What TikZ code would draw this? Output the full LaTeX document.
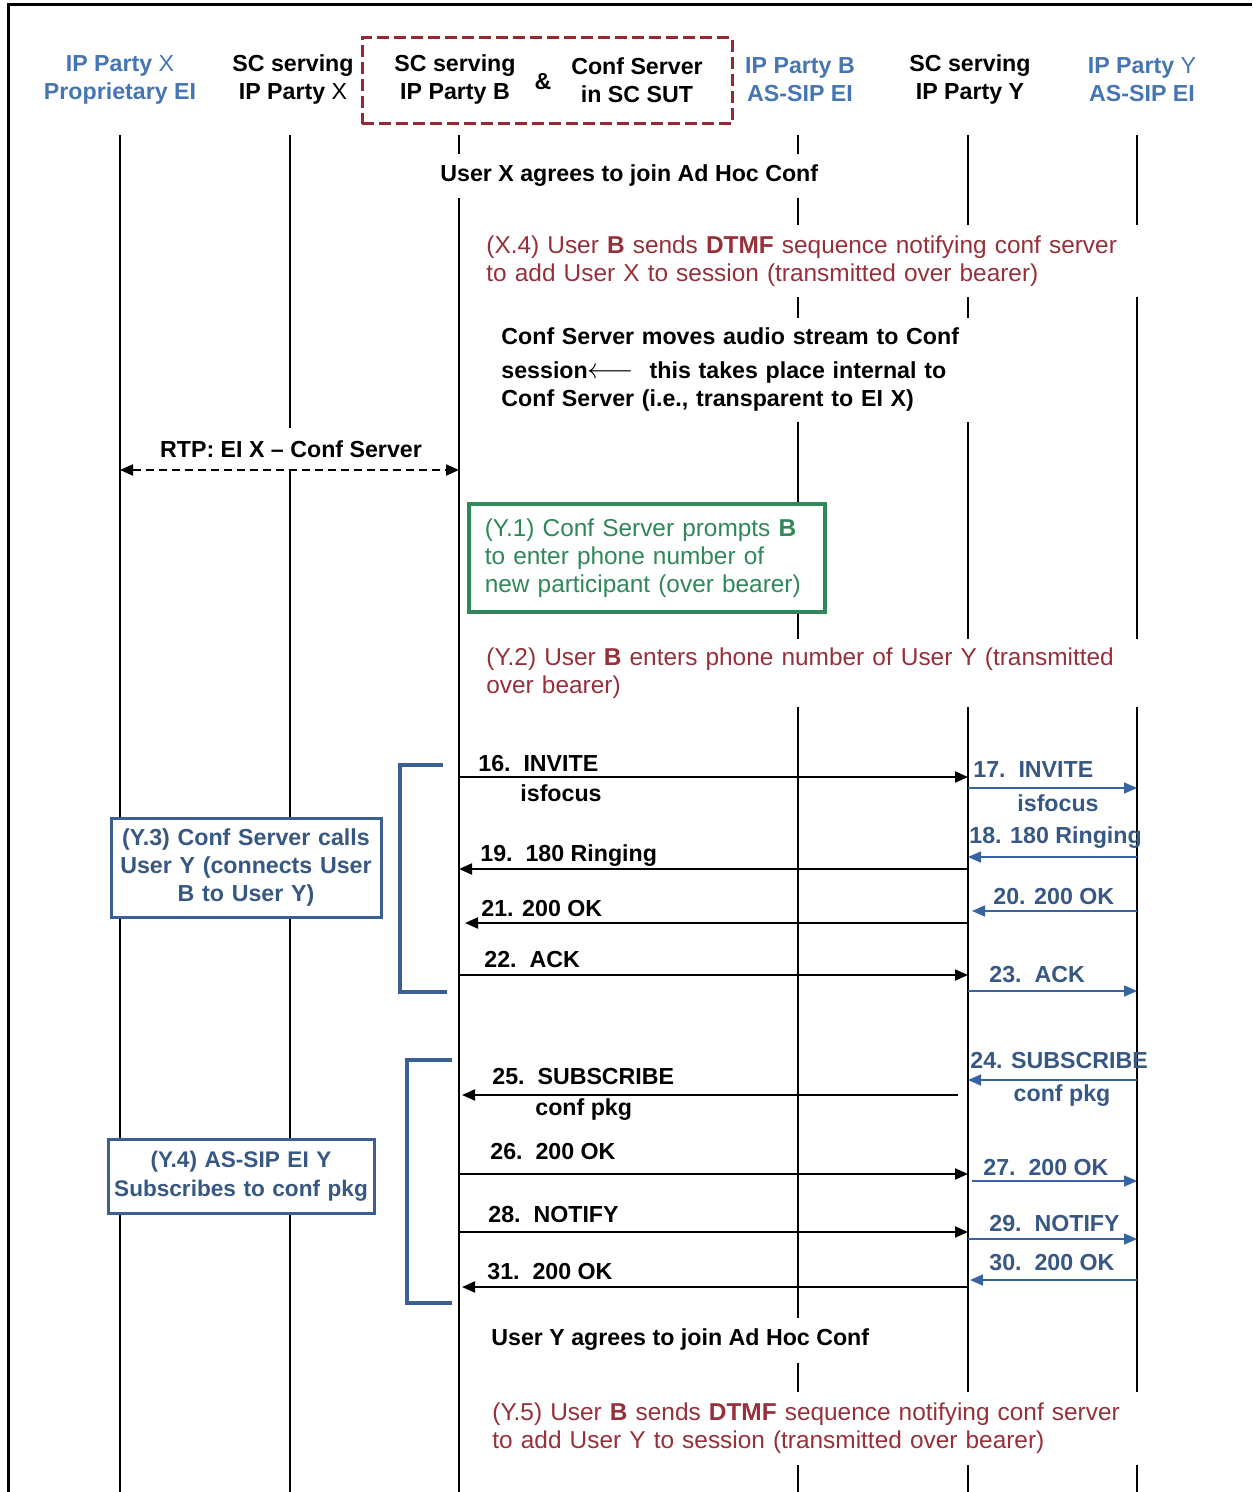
\documentclass[tikz,border=0pt]{standalone}
\usepackage{fontspec}
\setmainfont{Liberation Sans}
\usetikzlibrary{arrows.meta}
\definecolor{hblue}{RGB}{70,118,178}
\definecolor{mblue}{RGB}{55,88,132}
\definecolor{ablue}{RGB}{55,100,160}
\definecolor{bblue}{RGB}{58,96,145}
\definecolor{dred}{RGB}{150,48,58}
\definecolor{boxred}{RGB}{150,40,50}
\definecolor{dgreen}{RGB}{48,135,90}
\tikzset{mtip/.tip={Triangle[length=6.5pt,width=5.5pt]}}
\newcommand{\regf}{\fontsize{12.2}{14}\selectfont}
\newcommand{\bldf}{\fontsize{11.6}{14}\selectfont\bfseries}
\begin{document}
\begin{tikzpicture}[x=0.5pt,y=-0.5pt,
  life/.style={line width=1pt},
  msg/.style={line width=1pt,-mtip},
  bmsg/.style={line width=0.8pt,ablue,-mtip},
  lbl/.style={font=\bldf,inner sep=0pt,anchor=west},
  blbl/.style={lbl,text=mblue},
  hdr/.style={font=\bldf,align=center,inner sep=0pt},
  note/.style={fill=white,inner xsep=1pt,inner ysep=0pt,align=left,anchor=west,font=\regf},
  bnote/.style={note,font=\bldf},
  bracket/.style={bblue,line width=2pt},
  sbox/.style={draw=bblue,line width=1.5pt,fill=white,text=mblue,font=\bldf,align=center,inner ysep=0pt},
]
\useasboundingbox (0,0) rectangle (1252,1492);
% frame
\coordinate (fbl) at (8,1492);
\coordinate (ftl) at (8,5);
\coordinate (ftr) at (1252,5);
\draw[line width=1.5pt] (fbl) -- (ftl) -- (ftr);
% lifelines
\foreach \n/\x in {lX/120,lSX/290,lB/459,lPB/798,lSY/968,lPY/1137}{
  \coordinate (\n) at (\x,135);
  \coordinate (\n e) at (\x,1492);
  \draw[life] (\n) -- (\n e);
}
% headers
\node[hdr,text=hblue] (hX) at (120,80) {IP Party {\mdseries X}\\Proprietary EI};
\node[hdr] (hSX) at (293,80) {SC serving\\IP Party {\mdseries X}};
\node[draw=boxred,line width=1.5pt,dash pattern=on 6pt off 2.5pt,minimum width=185pt,minimum height=43pt] (sut) at (547,81) {};
\node[hdr] (hB) at (455,80) {SC serving\\IP Party B};
\node[hdr] (amp) at (543,82) {\&};
\node[hdr] (hC) at (637,80) {Conf Server\\in SC SUT};
\node[hdr,text=hblue] (hPB) at (800,80) {IP Party B\\AS-SIP EI};
\node[hdr] (hSY) at (970,80) {SC serving\\IP Party Y};
\node[hdr,text=hblue] (hPY) at (1142,80) {IP Party {\mdseries Y}\\AS-SIP EI};
% notes
\node[bnote,minimum height=22pt,inner xsep=3pt] (ux) at (434,176) {User X agrees to join Ad Hoc Conf};
\node[note,text=dred,text width=330pt,minimum height=36pt] (x4) at (484,261)
  {(X.4) User \textbf{B} sends \textbf{DTMF} sequence notifying conf server\\to add User X to session (transmitted over bearer)};
\node[bnote,text width=237pt,minimum height=52pt] (cs) at (499,370)
  {Conf Server moves audio stream to Conf\\[3pt]session{\fontsize{14}{14}\selectfont$\longleftarrow$}\ \ this takes place internal to\\Conf Server (i.e., transparent to EI X)};
\node[bnote,anchor=center,minimum height=21pt,inner xsep=3pt] (rtp) at (291,449) {RTP: EI X – Conf Server};
\draw[line width=1pt,dash pattern=on 4pt off 2.5pt,mtip-mtip] (lX |- 0,470) -- (lB |- 0,470);
\node[draw=dgreen,line width=1.8pt,fill=white,text=dgreen,font=\regf,align=left,anchor=north west,
  minimum width=178pt,minimum height=54pt,text width=162pt,inner xsep=8pt,inner ysep=0pt] (y1) at (467,502)
  {(Y.1) Conf Server prompts \textbf{B}\\to enter phone number of\\new participant (over bearer)};
\node[note,text=dred,text width=330pt,minimum height=34pt] (y2) at (484,673)
  {(Y.2) User \textbf{B} enters phone number of User Y (transmitted\\over bearer)};
% bracket 1
\coordinate (b1a) at (443,765);
\coordinate (b1b) at (400,765);
\coordinate (b1c) at (400,992);
\coordinate (b1d) at (447,992);
\draw[bracket] (b1a) -- (b1b) -- (b1c) -- (b1d);
\node[sbox,minimum width=135pt,minimum height=49.5pt,text width=133pt,inner xsep=1pt] (y3) at (246,867.5)
  {(Y.3) Conf Server calls\\User Y (connects User\\B to User Y)};
% messages 16-23
\draw[msg] (lB |- 0,777) -- (lSY |- 0,777);
\node[lbl] (t16) at (478,764) {16.~~INVITE};
\node[lbl] (t16b) at (520,793) {isfocus};
\draw[bmsg] (lSY |- 0,788) -- (lPY |- 0,788);
\node[blbl] (t17) at (973,770) {17.~~INVITE};
\node[blbl,anchor=center] (t17b) at (1058,803) {isfocus};
\draw[bmsg] (lPY |- 0,857) -- (lSY |- 0,857);
\node[blbl] (t18) at (969,838) {18. 180 Ringing};
\draw[msg] (lSY |- 0,869) -- (lB |- 0,869);
\node[lbl] (t19) at (480,856) {19.~~180 Ringing};
\draw[bmsg,shorten >=2pt] (lPY |- 0,911) -- (lSY |- 0,911);
\node[blbl] (t20) at (993,897) {20. 200 OK};
\draw[msg,shorten >=3pt] (lSY |- 0,923) -- (lB |- 0,923);
\node[lbl] (t21) at (481,909) {21. 200 OK};
\draw[msg] (lB |- 0,975) -- (lSY |- 0,975);
\node[lbl] (t22) at (484,960) {22.~~ACK};
\draw[bmsg] (lSY |- 0,991) -- (lPY |- 0,991);
\node[blbl] (t23) at (989,975) {23.~~ACK};
% bracket 2
\coordinate (b2a) at (452,1060);
\coordinate (b2b) at (407,1060);
\coordinate (b2c) at (407,1303);
\coordinate (b2d) at (452,1303);
\draw[bracket] (b2a) -- (b2b) -- (b2c) -- (b2d);
\node[sbox,font=\fontsize{11.3}{14.5}\selectfont\bfseries,minimum width=133pt,minimum height=37pt,text width=133pt,inner xsep=0pt] (y4) at (241,1176)
  {(Y.4) AS-SIP EI Y\\Subscribes to conf pkg};
% messages 24-31
\draw[bmsg] (lPY |- 0,1080) -- (lSY |- 0,1080);
\node[blbl] (t24) at (970,1061) {24. SUBSCRIBE};
\node[blbl,anchor=center] (t24b) at (1062,1096) {conf pkg};
\draw[msg,shorten <=5pt,shorten >=1.5pt] (lSY |- 0,1095) -- (lB |- 0,1095);
\node[lbl] (t25) at (492,1077) {25.~~SUBSCRIBE};
\node[lbl] (t25b) at (535,1110) {conf pkg};
\draw[msg] (lB |- 0,1174) -- (lSY |- 0,1174);
\node[lbl] (t26) at (490,1151) {26.~~200 OK};
\draw[bmsg,shorten <=2pt] (lSY |- 0,1181) -- (lPY |- 0,1181);
\node[blbl] (t27) at (983,1167) {27.~~200 OK};
\draw[msg] (lB |- 0,1232) -- (lSY |- 0,1232);
\node[lbl] (t28) at (488,1215) {28.~~NOTIFY};
\draw[bmsg] (lSY |- 0,1239) -- (lPY |- 0,1239);
\node[blbl] (t29) at (989,1223) {29.~~NOTIFY};
\draw[bmsg,shorten >=1pt] (lPY |- 0,1280) -- (lSY |- 0,1280);
\node[blbl] (t30) at (989,1263) {30.~~200 OK};
\draw[msg,shorten >=1.5pt] (lSY |- 0,1287) -- (lB |- 0,1287);
\node[lbl] (t31) at (487,1272) {31.~~200 OK};
% final notes
\node[bnote,minimum height=22.5pt,inner xsep=3pt] (uy) at (485,1340) {User Y agrees to join Ad Hoc Conf};
\node[note,text=dred,text width=327pt,minimum height=36.5pt] (y5) at (490,1428)
  {(Y.5) User \textbf{B} sends \textbf{DTMF} sequence notifying conf server\\to add User Y to session (transmitted over bearer)};
\end{tikzpicture}
\end{document}
